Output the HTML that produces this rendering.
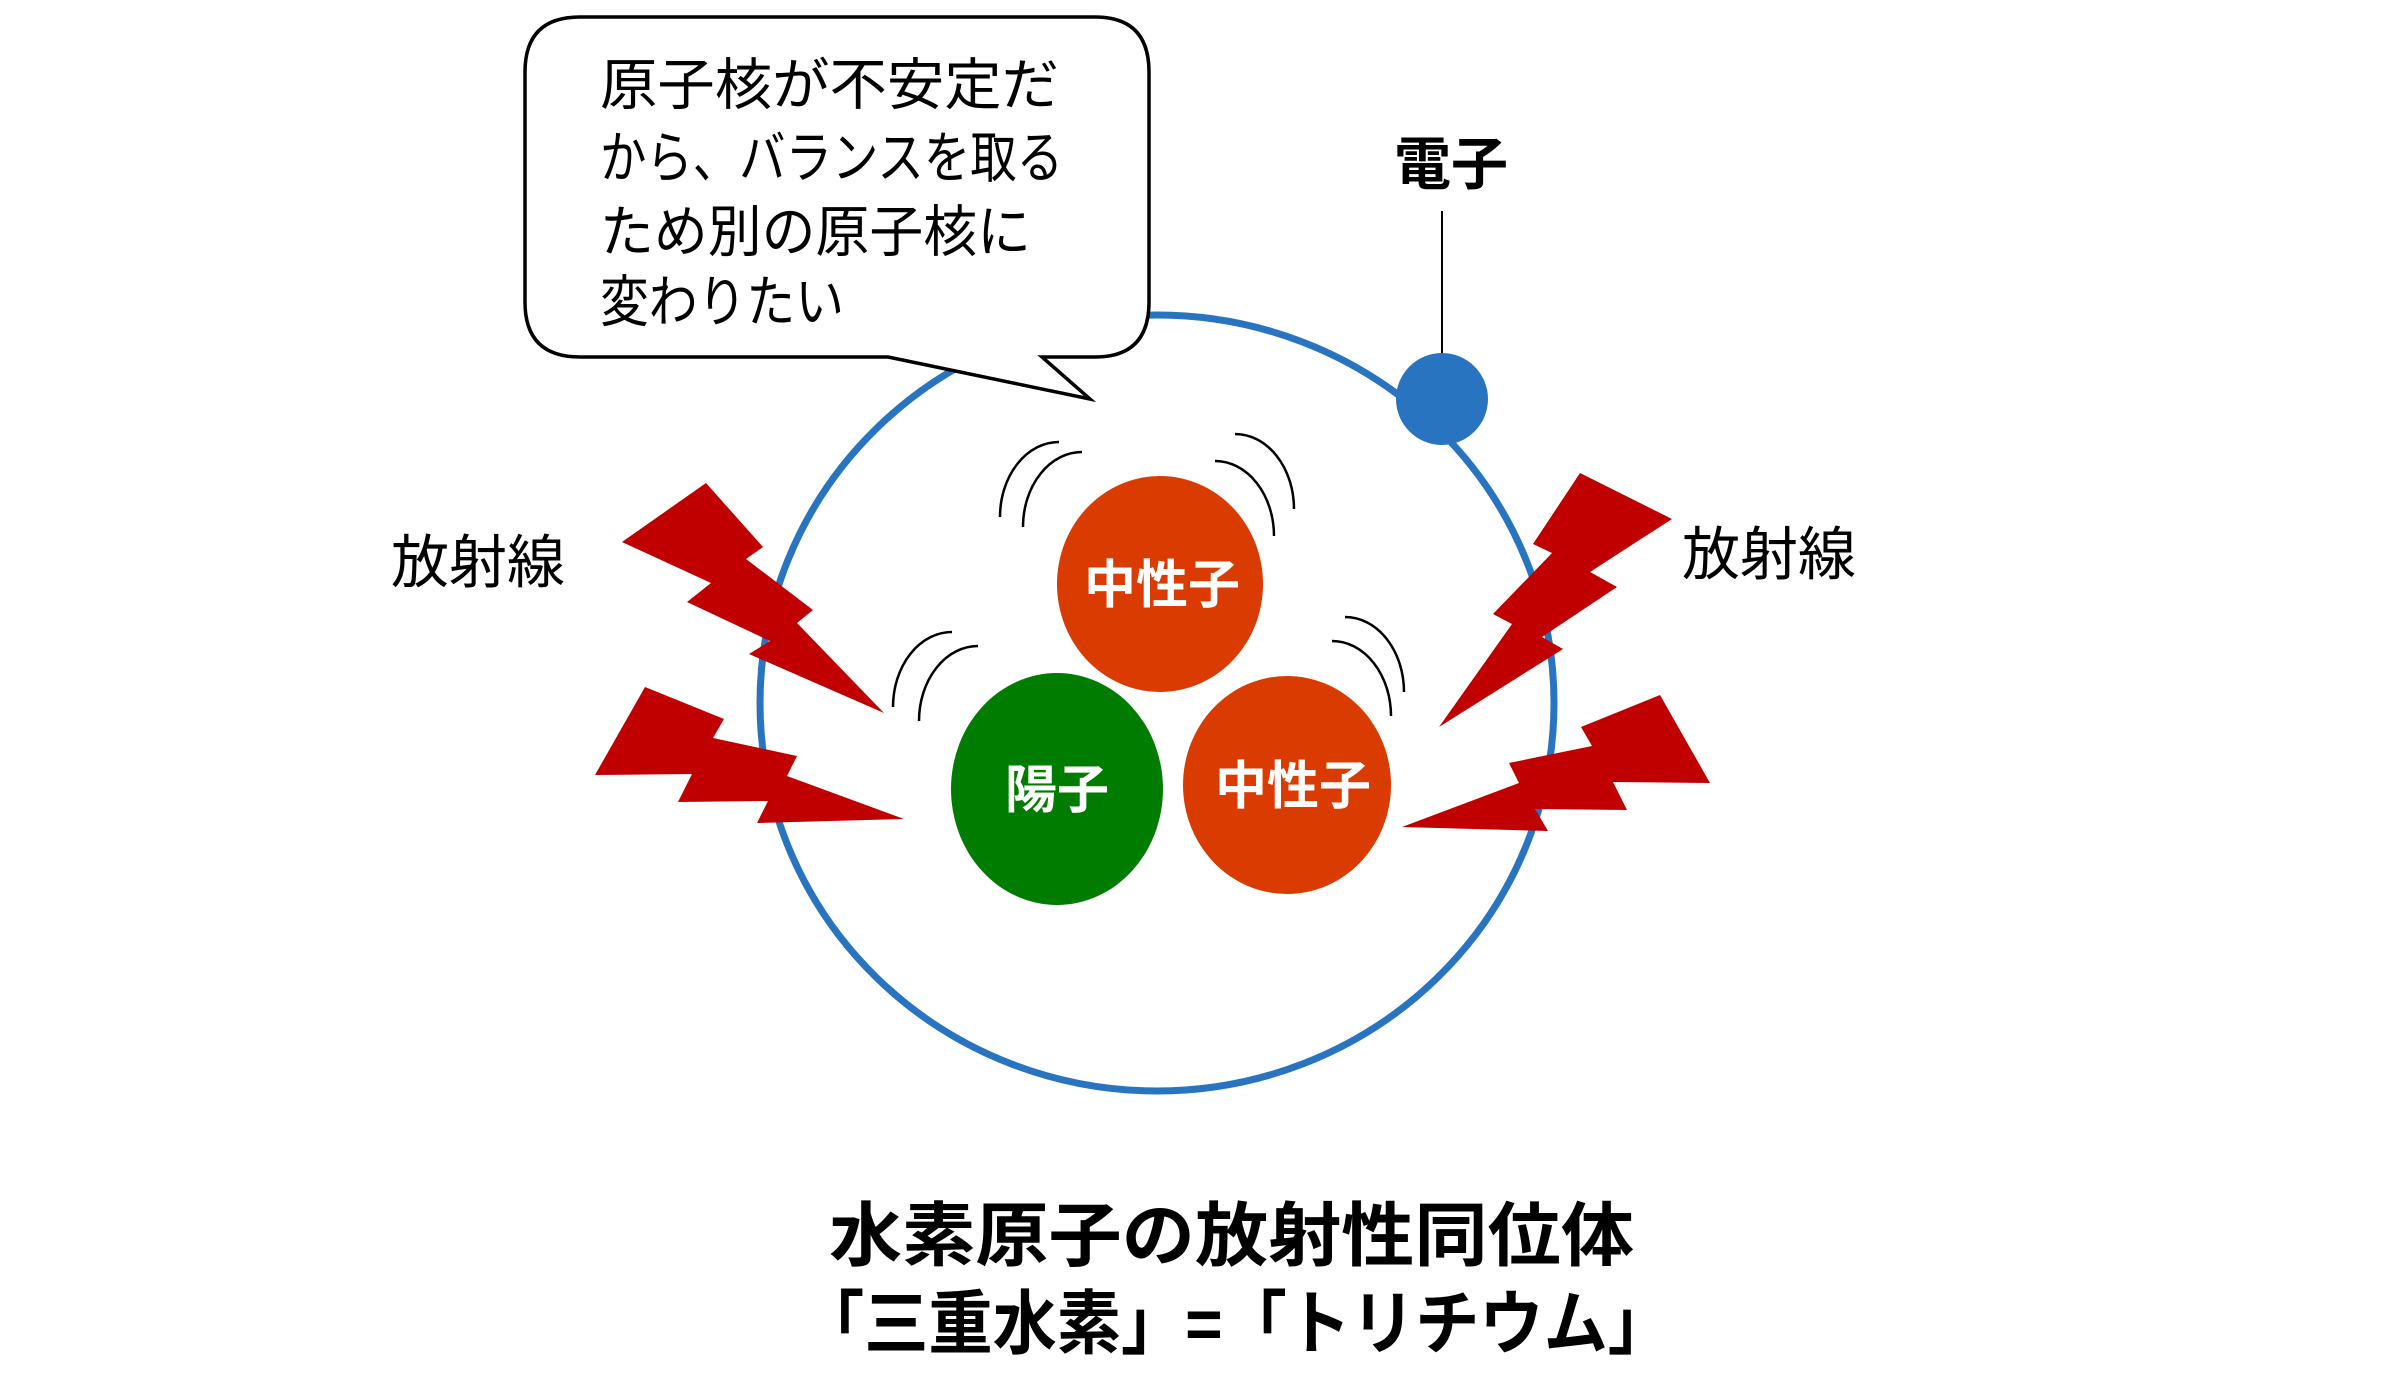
<!DOCTYPE html>
<html><head><meta charset="utf-8"><style>
html,body{margin:0;padding:0;background:#fff;}
svg{display:block;}
text{font-family:"Liberation Sans","Noto Sans CJK JP",sans-serif;}
</style></head><body>
<svg width="2386" height="1388" viewBox="0 0 2386 1388" xmlns="http://www.w3.org/2000/svg">
<!-- orbit -->
<ellipse cx="1157" cy="703" rx="397" ry="388" fill="none" stroke="#2874C0" stroke-width="7"/>
<!-- speech bubble -->
<path d="M580,17 H1095 Q1149,17 1149,72 V302 Q1149,357 1095,357 H1042 L1090,399 L888,357 H580 Q525,357 525,302 V72 Q525,17 580,17 Z" fill="#fff" stroke="#000" stroke-width="3.5"/>
<g font-size="56" fill="#000" dominant-baseline="central">
<text x="600" y="85" textLength="459" lengthAdjust="spacingAndGlyphs">原子核が不安定だ</text>
<text x="600" y="158" textLength="463" lengthAdjust="spacingAndGlyphs">から、バランスを取る</text>
<text x="600" y="232" textLength="431" lengthAdjust="spacingAndGlyphs">ため別の原子核に</text>
<text x="600" y="302" textLength="244" lengthAdjust="spacingAndGlyphs">変わりたい</text>
</g>
<!-- electron -->
<line x1="1442" y1="211" x2="1442" y2="360" stroke="#000" stroke-width="2"/>
<ellipse cx="1442" cy="399" rx="46" ry="46" fill="#2874C0"/>
<text x="1451" y="165" font-size="57" font-weight="bold" text-anchor="middle" dominant-baseline="central">電子</text>
<!-- 放射線 labels -->
<text x="478" y="563" font-size="58" text-anchor="middle" dominant-baseline="central">放射線</text>
<text x="1769" y="555" font-size="58" text-anchor="middle" dominant-baseline="central">放射線</text>
<!-- bolts -->
<g fill="#C00000">
<polygon points="622,542 706,483 763,547 746,559 813,610 797,623 884,713 749,654 770,641 687,602 711,583"/>
<polygon points="645,687 724,719 713,738 797,756 787,776 904,819 757,823 768,801 678,802 692,774 595,775"/>
<polygon points="1580,473 1672,519 1590,572 1617,587 1542,637 1563,649 1439,727 1512,624 1493,614 1552,553 1533,544"/>
<polygon points="1660,695 1710,783 1613,782 1627,810 1535,809 1548,831 1402,827 1519,783 1509,763 1592,746 1581,727"/>
</g>
<!-- vibration arcs -->
<g fill="none" stroke="#000" stroke-width="2.5">
<path d="M1000,517 A59,75 0 0 1 1059,442"/>
<path d="M1023,527 A59,75 0 0 1 1082,452"/>
<path d="M1235,434 A59,75 0 0 1 1294,509"/>
<path d="M1215,461 A59,75 0 0 1 1274,536"/>
<path d="M893,707 A59,75 0 0 1 952,632"/>
<path d="M919,721 A59,75 0 0 1 978,646"/>
<path d="M1345,617 A59,75 0 0 1 1404,692"/>
<path d="M1332,641 A59,75 0 0 1 1391,716"/>
</g>
<!-- nucleons -->
<ellipse cx="1160" cy="584" rx="103" ry="108" fill="#D93B00"/>
<ellipse cx="1057" cy="789" rx="106" ry="116" fill="#007D00"/>
<ellipse cx="1287" cy="785" rx="104" ry="109" fill="#D93B00"/>
<g font-size="52" font-weight="bold" fill="#fff" text-anchor="middle" dominant-baseline="central">
<text x="1162" y="586">中性子</text>
<text x="1057" y="791">陽子</text>
<text x="1293" y="787">中性子</text>
</g>
<!-- title -->
<g font-size="70" font-weight="bold" fill="#000" dominant-baseline="central">
<text x="829" y="1236" textLength="805" lengthAdjust="spacingAndGlyphs">水素原子の放射性同位体</text>
<text x="800" y="1324" textLength="872" lengthAdjust="spacingAndGlyphs">「三重水素」=「トリチウム」</text>
</g>
</svg>
</body></html>
